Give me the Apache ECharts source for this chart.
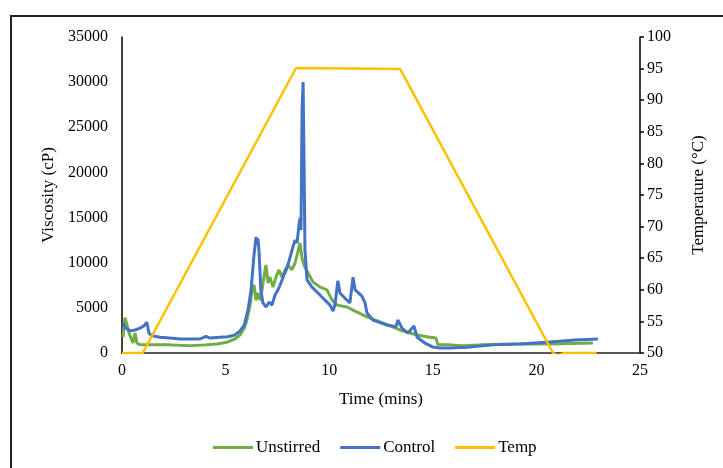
<!DOCTYPE html>
<html>
<head>
<meta charset="utf-8">
<script src="https://cdn.jsdelivr.net/npm/echarts@6/dist/echarts.min.js"></script>
<style>
html,body{margin:0;padding:0;background:#fff;}
#chart{width:723px;height:468px;}
</style>
</head>
<body>
<div id="chart"></div>
<script>
// Time (mins) and viscosity (cP)
const unstirredTime = [0.05,0.14,0.24,0.34,0.43,0.53,0.63,0.72,0.87,1.35,2.3,3.28,4.0,4.58,5.07,5.45,5.7,5.9,6.03,6.18,6.27,6.37,6.47,6.56,6.66,6.76,6.9,6.95,7.05,7.14,7.29,7.43,7.58,7.72,7.87,8.01,8.2,8.35,8.49,8.59,8.69,8.78,8.98,9.22,9.56,9.89,10.14,10.38,10.86,11.15,11.82,12.6,13.42,14.24,14.86,15.15,15.25,15.83,16.46,17.28,18.87,20.66,22.73];
const unstirredVisc = [1750,3900,3100,2200,2100,1100,2200,1100,900,900,900,800,900,1000,1200,1550,2000,2750,3650,5300,6750,7550,5850,6650,5850,7000,9200,9750,7750,8400,7300,8400,9200,8400,9200,9750,9200,9950,11200,12200,10500,9750,8850,7850,7300,7000,5850,5300,5100,4750,4000,3300,2550,2000,1750,1650,900,900,800,900,1000,1000,1100];

const controlTime = [0.05,0.19,0.39,0.63,0.87,1.06,1.2,1.3,1.45,1.83,2.3,2.8,3.28,3.76,4.05,4.25,4.73,5.1,5.45,5.7,5.9,6.08,6.23,6.37,6.47,6.52,6.56,6.61,6.7,6.8,6.95,7.1,7.24,7.38,7.53,7.67,7.82,7.96,8.1,8.25,8.35,8.45,8.54,8.59,8.64,8.69,8.74,8.78,8.83,8.93,9.17,9.46,9.8,10.04,10.19,10.28,10.42,10.52,10.86,11.0,11.15,11.25,11.58,11.73,11.82,12.11,12.79,13.22,13.32,13.51,13.8,14.09,14.24,14.62,15.01,15.35,15.83,16.65,17.9,19.2,20.5,21.86,22.97];
const controlVisc = [3300,2750,2450,2550,2750,3000,3400,2200,1900,1750,1650,1550,1550,1550,1850,1650,1750,1800,2000,2450,3100,4750,7000,10850,12850,12000,12700,11400,7000,5550,5100,5650,5300,6400,7000,7750,8650,9400,10500,11750,12500,12200,14200,14950,13600,26900,30000,22500,11400,8100,7300,6650,5850,5300,4650,5400,8000,6650,5850,5550,8400,7000,6300,5550,4450,3650,3100,2900,3650,2750,2200,3000,1750,1100,650,550,550,650,900,1000,1200,1450,1550];

// Temperature (°C)
const tempTime = [0,1.0,8.4,13.42,20.8,21.05,21.35,22.9];
const tempVals = [50,50,95.1,94.95,50,49.6,50,50];

// Axis ticks
const xTicks = {min:0, max:25, interval:5};
const viscTicks = {min:0, max:35000, interval:5000};
const tempTicks = {min:50, max:100, interval:5};

const zip = (a,b) => a.map((v,i)=>[v,b[i]]);
const FONT = 'Liberation Serif';
const txt = {fontFamily:FONT, fontSize:16, color:'#000'};

const chart = echarts.init(document.getElementById('chart'), null, {renderer:'canvas'});
chart.setOption({
  animation:false,
  backgroundColor:'#fff',
  graphic:[{
    type:'rect', silent:true, z:-1,
    shape:{x:11, y:16, width:740, height:480},
    style:{fill:'none', stroke:'#222', lineWidth:2}
  }],
  grid:{left:122, right:83, top:37, bottom:115, containLabel:false},
  legend:{
    left:208, top:434,
    icon:'rect', itemWidth:40, itemHeight:3, itemGap:20,
    textStyle:{fontFamily:FONT, fontSize:17, color:'#000', padding:[0,0,0,-2]},
    data:['Unstirred','Control','Temp']
  },
  xAxis:{
    type:'value', min:xTicks.min, max:xTicks.max, interval:xTicks.interval,
    axisLine:{show:true, onZero:false, lineStyle:{color:'#222', width:1.5}},
    axisTick:{show:false}, splitLine:{show:false},
    axisLabel:Object.assign({margin:10}, txt),
    name:'Time (mins)', nameLocation:'middle', nameGap:38,
    nameTextStyle:{fontFamily:FONT, fontSize:17, color:'#000'}
  },
  yAxis:[{
    type:'value', min:viscTicks.min, max:viscTicks.max, interval:viscTicks.interval,
    axisLine:{show:true, lineStyle:{color:'#000', width:1.5}},
    axisTick:{show:false}, splitLine:{show:false},
    axisLabel:Object.assign({margin:14, formatter:(v)=>String(v)}, txt),
    name:'Viscosity (cP)', nameLocation:'middle', nameGap:57, nameRotate:90,
    nameTextStyle:{fontFamily:FONT, fontSize:17, color:'#000'}
  },{
    type:'value', position:'right', min:tempTicks.min, max:tempTicks.max, interval:tempTicks.interval,
    axisLine:{show:true, lineStyle:{color:'#000', width:1.5}},
    axisTick:{show:true, inside:false, length:4, lineStyle:{color:'#000', width:1.5}},
    splitLine:{show:false},
    axisLabel:Object.assign({margin:7}, txt),
    name:'Temperature (°C)', nameLocation:'middle', nameGap:50, nameRotate:90,
    nameTextStyle:{fontFamily:FONT, fontSize:17, color:'#000'}
  }],
  series:[{
    name:'Unstirred', type:'line', yAxisIndex:0, symbol:'none', z:2,
    data:zip(unstirredTime, unstirredVisc),
    itemStyle:{color:'#70AD47'}, lineStyle:{color:'#70AD47', width:3}
  },{
    name:'Control', type:'line', yAxisIndex:0, symbol:'none', z:3,
    data:zip(controlTime, controlVisc),
    itemStyle:{color:'#4472C4'}, lineStyle:{color:'#4472C4', width:3}
  },{
    name:'Temp', type:'line', yAxisIndex:1, symbol:'none', z:4, clip:true,
    data:zip(tempTime, tempVals),
    itemStyle:{color:'#FFC000'}, lineStyle:{color:'#FFC000', width:2.5}
  }]
});
</script>
</body>
</html>
